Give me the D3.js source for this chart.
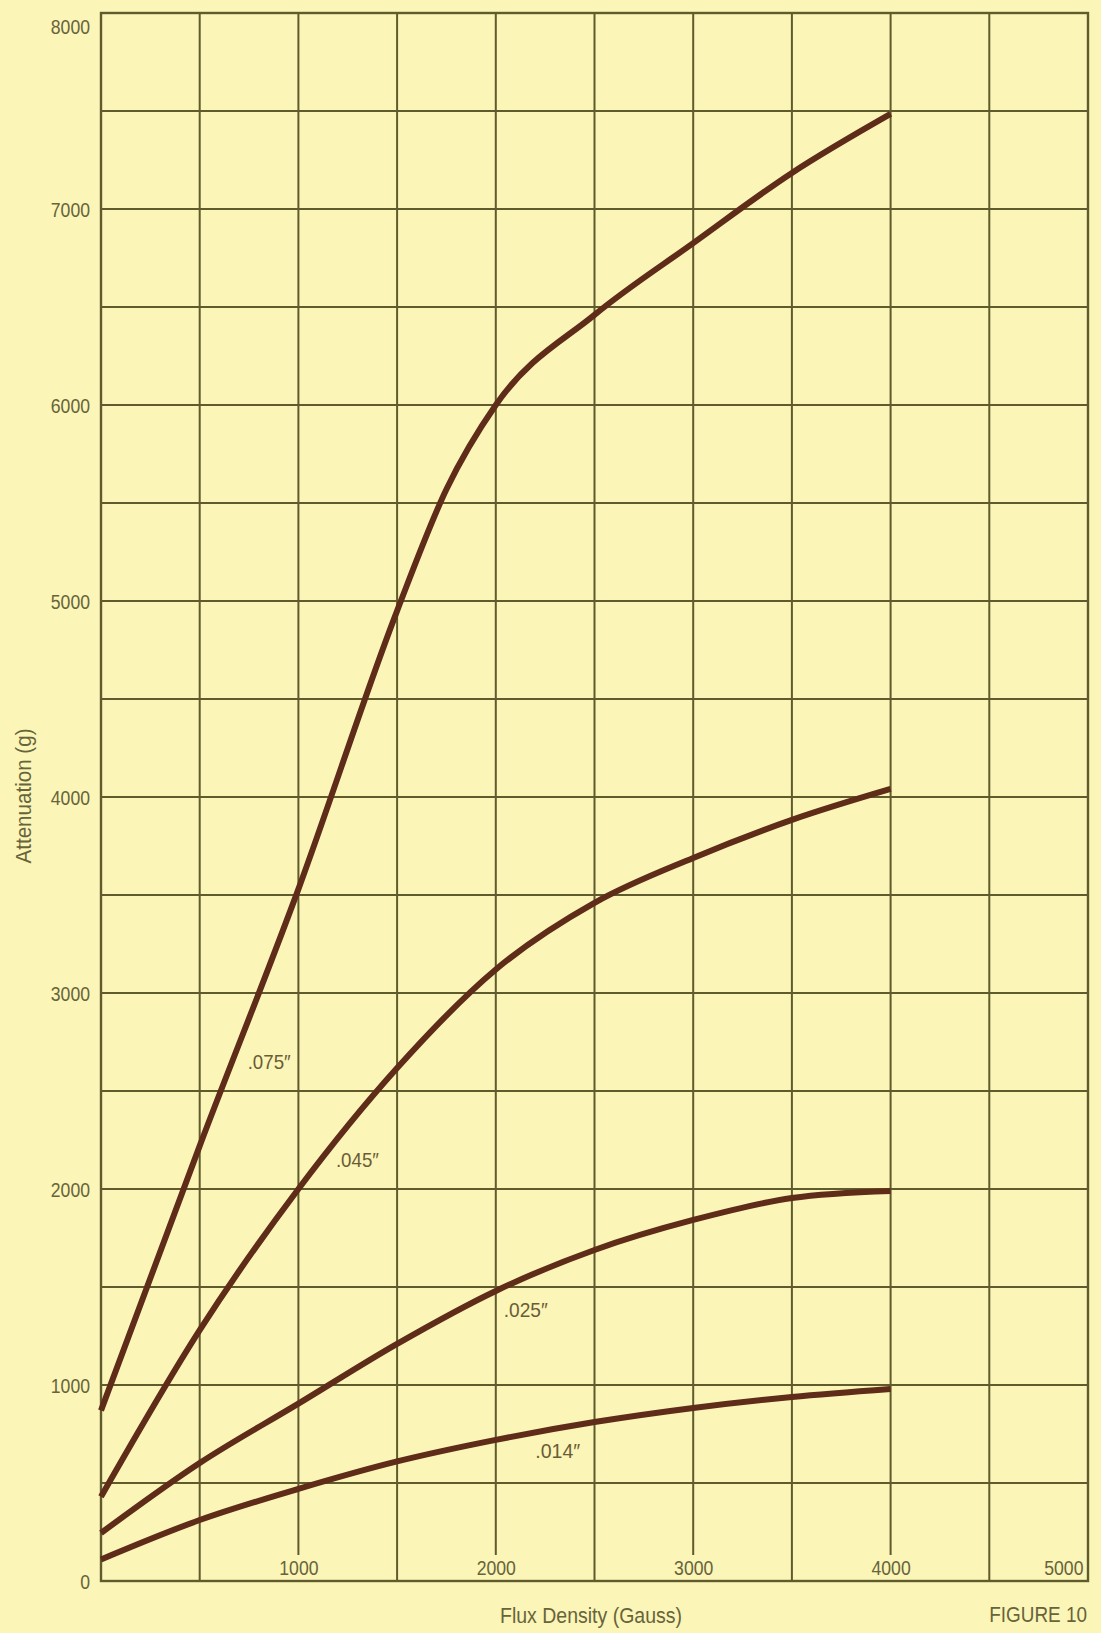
<!DOCTYPE html>
<html>
<head>
<meta charset="utf-8">
<script src="https://cdn.jsdelivr.net/npm/d3@7/dist/d3.min.js"></script>
<style>
  html, body { margin: 0; padding: 0; background: #fbf5b8; }
  svg { display: block; }
  text { font-family: "Liberation Sans", Arial, "DejaVu Sans Condensed", sans-serif; }
</style>
</head>
<body>
<svg id="chart" width="1101" height="1633"></svg>
<script>
// ---- data ----
const xTickValues = [1000, 2000, 3000, 4000, 5000];
const yTickValues = [0, 1000, 2000, 3000, 4000, 5000, 6000, 7000, 8000];
const gridX = [500, 1000, 1500, 2000, 2500, 3000, 3500, 4000, 4500];
const gridY = [500, 1000, 1500, 2000, 2500, 3000, 3500, 4000, 4500, 5000, 5500, 6000, 6500, 7000, 7500];

const seriesNames = ['.075″', '.045″', '.025″', '.014″'];
const fluxA = [0, 500, 1000, 1500, 1750, 2000, 2500, 3000, 3500, 4000];
const att075 = [870, 2220, 3530, 4950, 5570, 6000, 6460, 6826, 7184, 7485];
const fluxB = [0, 500, 1000, 1500, 2000, 2500, 3000, 3500, 4000];
const att045 = [430, 1280, 2000, 2617, 3120, 3460, 3689, 3883, 4041];
const fluxC = [0, 500, 1000, 1500, 2000, 2500, 3000, 3500, 4000];
const att025 = [245, 602, 905, 1210, 1480, 1689, 1842, 1954, 1990];
const att014 = [110, 311, 470, 610, 720, 811, 883, 939, 980];
// label anchor points (data coords) for the curve names
const labelX = [743, 1190, 2040, 2200];
const labelY = [2610, 2110, 1345, 630];
const labelWidths = [43, 43, 44, 45];

const xTitle = 'Flux Density (Gauss)';
const yTitle = 'Attenuation (g)';
const figTitle = 'FIGURE 10';

// ---- layout ----
const svg = d3.select('#chart');
const W = 1101, H = 1633;
const m = { left: 101, right: 1088, top: 13, bottom: 1581 };
const x = d3.scaleLinear().domain([0, 5000]).range([m.left, m.right]);
const y = d3.scaleLinear().domain([0, 8000]).range([m.bottom, m.top]);

const gridColor = '#5f5b2c';
const textColor = '#67643a';
const lineColor = '#5e2c18';
const squeeze = 'scale(0.84,1)';

svg.append('rect').attr('width', W).attr('height', H).attr('fill', '#fbf5b8');

// horizontal grid
svg.append('g').selectAll('line').data(gridY).join('line')
  .attr('x1', m.left).attr('x2', m.right)
  .attr('y1', d => y(d)).attr('y2', d => y(d))
  .attr('stroke', gridColor).attr('stroke-width', 2);

// vertical grid (labelled ones stop above the label)
svg.append('g').selectAll('line').data(gridX).join('line')
  .attr('y1', m.top)
  .attr('y2', d => (d % 1000 === 0) ? m.bottom - 26 : m.bottom)
  .attr('x1', d => x(d)).attr('x2', d => x(d))
  .attr('stroke', gridColor).attr('stroke-width', 2);

// frame
svg.append('rect')
  .attr('x', m.left).attr('y', m.top)
  .attr('width', m.right - m.left).attr('height', m.bottom - m.top)
  .attr('fill', 'none').attr('stroke', gridColor).attr('stroke-width', 2.4);

// curves
const series = [
  { name: seriesNames[0], xs: fluxA, ys: att075 },
  { name: seriesNames[1], xs: fluxB, ys: att045 },
  { name: seriesNames[2], xs: fluxC, ys: att025 },
  { name: seriesNames[3], xs: fluxC, ys: att014 }
];
const line = d3.line()
  .x(d => x(d[0])).y(d => y(d[1]))
  .curve(d3.curveMonotoneX);
svg.append('g').selectAll('path').data(series).join('path')
  .attr('d', s => line(s.xs.map((v, i) => [v, s.ys[i]])))
  .attr('fill', 'none')
  .attr('stroke', lineColor)
  .attr('stroke-width', 6)
  .attr('stroke-linecap', 'butt');

// curve labels
svg.append('g').selectAll('text').data(series).join('text')
  .attr('x', (s, i) => x(labelX[i]))
  .attr('y', (s, i) => y(labelY[i]))
  .attr('fill', '#6a5c35')
  .attr('font-size', 21)
  .attr('textLength', (s, i) => labelWidths[i])
  .attr('lengthAdjust', 'spacingAndGlyphs')
  .text(s => s.name);

// y axis labels
const yAxis = d3.axisLeft(y).tickValues(yTickValues).tickSize(0).tickPadding(0).tickFormat(d3.format('d'));
const yg = svg.append('g').attr('transform', `translate(${m.left - 11},0)`).call(yAxis);
yg.select('.domain').remove();
yg.selectAll('text')
  .attr('fill', textColor).attr('font-size', 21)
  .attr('font-family', null)
  .attr('x', 0)
  .attr('transform', squeeze)
  .attr('dy', d => d === 8000 ? '1.0em' : '0.35em');

// x axis labels (inside the frame)
const xAxis = d3.axisBottom(x).tickValues(xTickValues).tickSize(0).tickPadding(0).tickFormat(d3.format('d'));
const xg = svg.append('g').attr('transform', `translate(0,${m.bottom - 6})`).call(xAxis);
xg.select('.domain').remove();
xg.selectAll('text')
  .attr('fill', textColor).attr('font-size', 21)
  .attr('font-family', null)
  .attr('dy', 0)
  .attr('y', 0)
  .attr('transform', squeeze)
  .attr('text-anchor', d => d === 5000 ? 'end' : 'middle')
  .attr('x', d => d === 5000 ? -6 : 0);

// titles
svg.append('text')
  .attr('x', 591).attr('y', 1623)
  .attr('text-anchor', 'middle')
  .attr('fill', textColor).attr('font-size', 22)
  .attr('textLength', 182).attr('lengthAdjust', 'spacingAndGlyphs')
  .text(xTitle);

svg.append('text')
  .attr('transform', 'translate(31,796) rotate(-90)')
  .attr('text-anchor', 'middle')
  .attr('fill', textColor).attr('font-size', 22)
  .attr('textLength', 135).attr('lengthAdjust', 'spacingAndGlyphs')
  .text(yTitle);

svg.append('text')
  .attr('transform', 'translate(1087,1622) scale(0.86,1)')
  .attr('text-anchor', 'end')
  .attr('fill', textColor).attr('font-size', 22)
  .text(figTitle);
</script>
</body>
</html>
